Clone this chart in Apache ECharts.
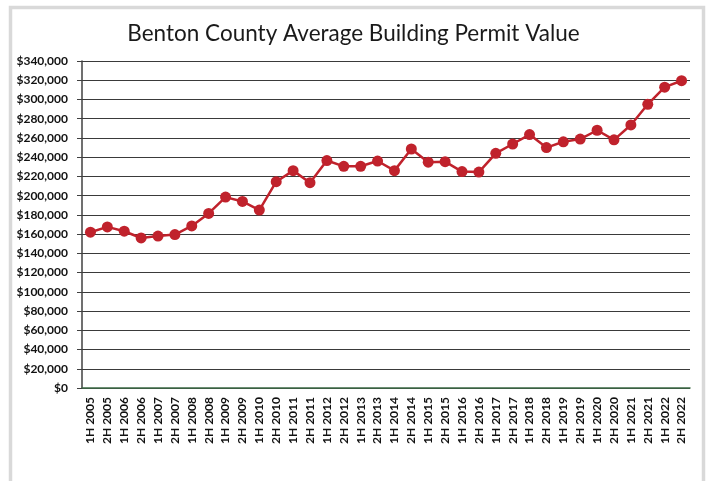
<!DOCTYPE html>
<html>
<head>
<meta charset="utf-8">
<script src="https://cdn.jsdelivr.net/npm/echarts@6/dist/echarts.min.js"></script>
<style>
  html, body { margin: 0; padding: 0; background: #fff; }
  #main { width: 707px; height: 481px; }
</style>
</head>
<body>
<div id="main"></div>
<script>
var categories = [
    '1H 2005', '2H 2005', '1H 2006', '2H 2006', '1H 2007', '2H 2007',
    '1H 2008', '2H 2008', '1H 2009', '2H 2009', '1H 2010', '2H 2010',
    '1H 2011', '2H 2011', '1H 2012', '2H 2012', '1H 2013', '2H 2013',
    '1H 2014', '2H 2014', '1H 2015', '2H 2015', '1H 2016', '2H 2016',
    '1H 2017', '2H 2017', '1H 2018', '2H 2018', '1H 2019', '2H 2019',
    '1H 2020', '2H 2020', '1H 2021', '2H 2021', '1H 2022', '2H 2022'
];
// average permit value, dollars
var permitValue = [
    162000, 167500, 163000, 156000, 158000, 159500,
    168500, 181500, 198500, 194000, 185000, 214500,
    226000, 213500, 236500, 230500, 230500, 236000,
    226000, 248500, 234800, 235300, 225000, 224500,
    244000, 253700, 263500, 250000, 256000, 258800,
    268000, 258000, 273500, 295000, 312800, 319500
];
var yMin = 0, yMax = 340000, yStep = 20000;

var chart = echarts.init(document.getElementById('main'));
var option = {
    animation: false,
    title: {
        text: 'Benton County Average Building Permit Value',
        left: 'center',
        top: 17,
        textStyle: {
            fontFamily: 'Lato',
            fontSize: 22.5,
            fontWeight: 'normal',
            color: '#1a1a1a'
        }
    },
    graphic: [{
        type: 'rect',
        shape: { x: 10.5, y: 7.5, width: 693, height: 500 },
        style: { fill: 'none', stroke: '#d9d9d9', lineWidth: 3.5 },
        silent: true
    }],
    grid: {
        left: 82,
        right: 17,
        top: 61,
        bottom: 93
    },
    xAxis: {
        type: 'category',
        data: categories,
        boundaryGap: true,
        axisLine: { lineStyle: { color: '#3d6b45', width: 1.5 } },
        axisTick: { show: false },
        axisLabel: {
            rotate: 90,
            interval: 0,
            margin: 9,
            fontFamily: 'Lato',
            fontWeight: 'bold',
            fontSize: 12,
            color: '#111'
        }
    },
    yAxis: {
        type: 'value',
        min: yMin,
        max: yMax,
        interval: yStep,
        axisLine: { show: true, lineStyle: { color: '#404040', width: 1.5 } },
        axisTick: { show: true, length: 5, lineStyle: { color: '#404040' } },
        axisLabel: {
            margin: 14,
            fontFamily: 'Lato',
            fontWeight: 'bold',
            fontSize: 12,
            color: '#111',
            formatter: function (v) {
                return '$' + v.toLocaleString('en-US');
            }
        },
        splitLine: { lineStyle: { color: '#3a3a3a', width: 1 } }
    },
    series: [{
        type: 'line',
        name: 'Average Permit Value',
        data: permitValue,
        symbol: 'circle',
        symbolSize: 11,
        itemStyle: { color: '#c0222c' },
        lineStyle: { color: '#c0222c', width: 2.5 }
    }]
};
chart.setOption(option);
</script>
</body>
</html>
